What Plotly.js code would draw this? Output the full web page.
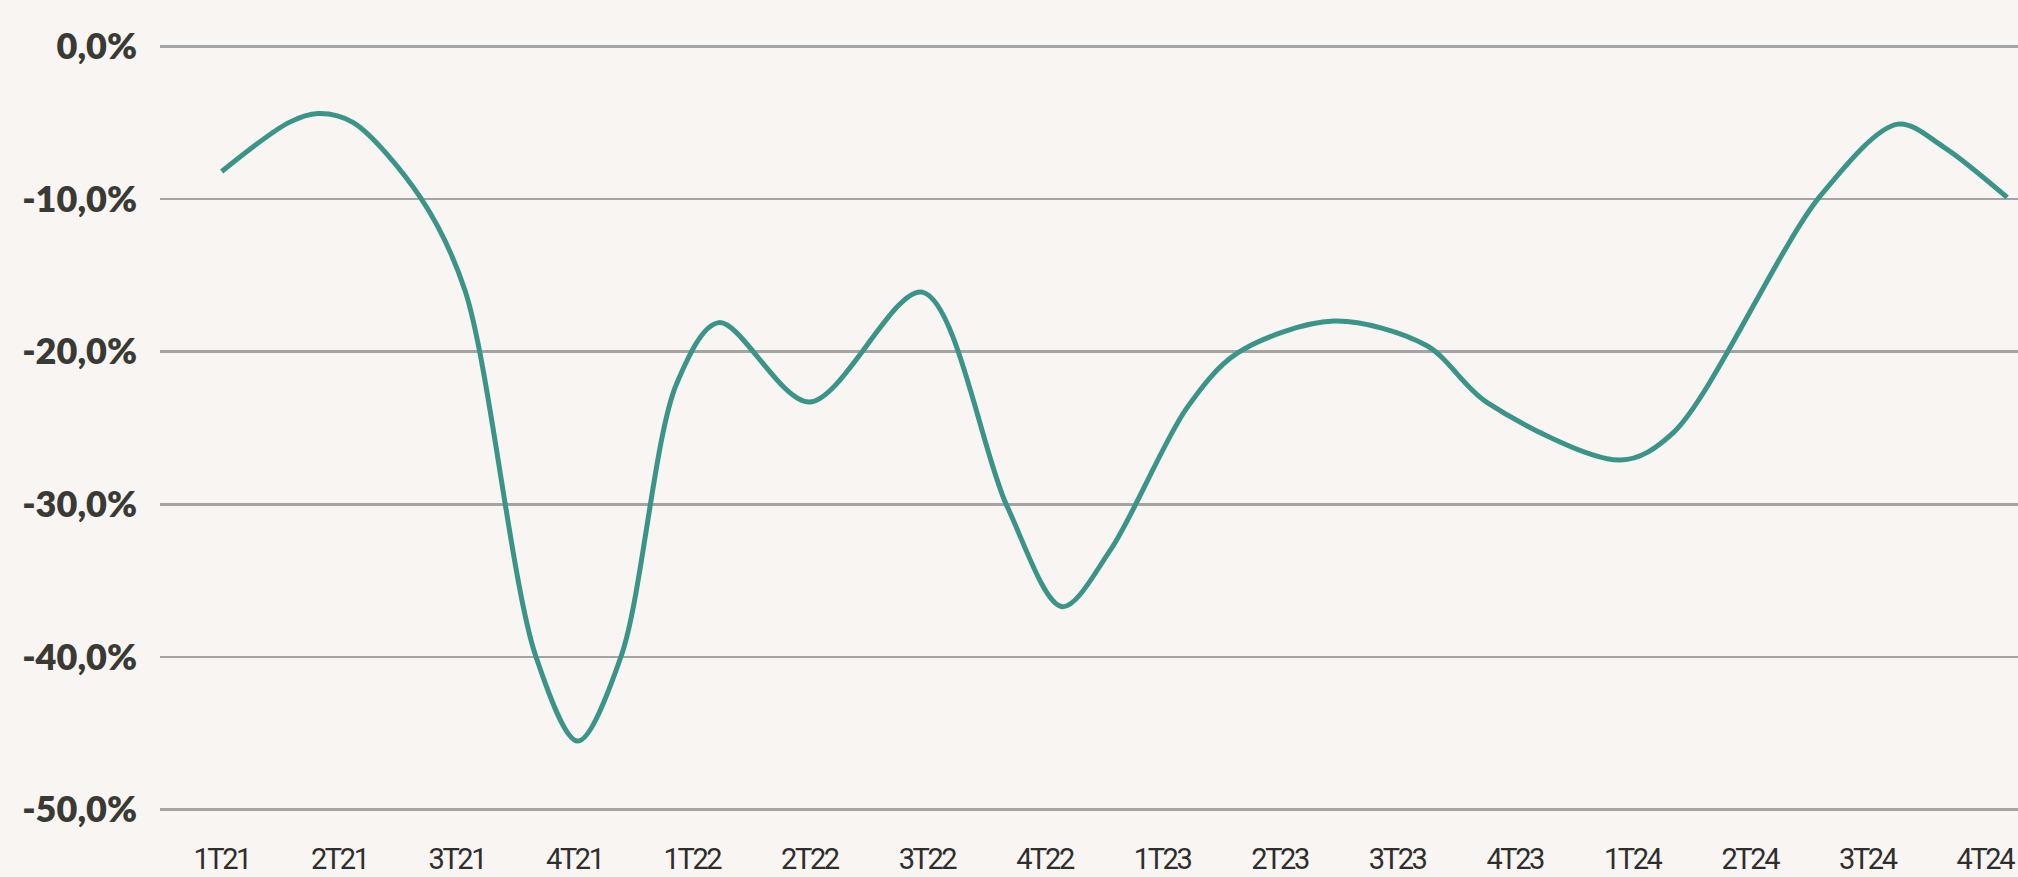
<!DOCTYPE html>
<html>
<head>
<meta charset="utf-8">
<script src="https://cdn.plot.ly/plotly-3.0.1.min.js"></script>
<style>
  html, body { margin: 0; padding: 0; background: #f8f5f2; }
  #chart { width: 2018px; height: 877px; }
  #chart .xtick text { letter-spacing: -2.4px; }
</style>
</head>
<body>
<div id="chart"></div>
<script>
// Quarter labels on the x axis
const quarters = ["1T21","2T21","3T21","4T21","1T22","2T22","3T22","4T22",
                  "1T23","2T23","3T23","4T23","1T24","2T24","3T24","4T24"];

// Line: position along the axis (in quarters, 0 = 1T21) and value (%)
const linePos = [0.00, 0.57, 0.82, 1.12, 1.69, 2.07, 2.67, 3.03, 3.40, 3.87,
                 4.23, 5.00, 5.96, 6.68, 7.15, 7.56, 8.21, 8.64, 9.46, 10.25,
                 10.76, 11.90, 12.35, 13.60, 14.26, 14.65, 15.19];
const lineVal = [-8.2, -5.0, -4.4, -5.0, -9.9, -16.0, -39.9, -45.5, -39.9, -22.1,
                 -18.1, -23.3, -16.1, -30.1, -36.7, -33.0, -23.7, -20.1, -18.0, -19.6,
                 -23.3, -27.1, -25.3, -9.8, -5.1, -6.6, -9.9];

// Y axis ticks
const yTickVals = [0, -10, -20, -30, -40, -50];
const yTickText = ["0,0%", "-10,0%", "-20,0%", "-30,0%", "-40,0%", "-50,0%"];

const trace = {
  type: "scatter",
  mode: "lines",
  x: linePos,
  y: lineVal,
  line: { color: "#3b9488", width: 5, shape: "spline", smoothing: 0.9 },
  hoverinfo: "skip"
};

const layout = {
  width: 2018,
  height: 877,
  paper_bgcolor: "#f8f5f2",
  plot_bgcolor: "#f8f5f2",
  margin: { l: 160, r: 0, t: 31, b: 52, pad: 0 },
  showlegend: false,
  xaxis: {
    range: [-0.525, 15.282],
    tickmode: "array",
    tickvals: quarters.map((q, i) => i),
    ticktext: quarters,
    showgrid: false,
    zeroline: false,
    showline: false,
    ticks: "",
    ticklabelstandoff: 14,
    tickfont: { family: "Roboto, sans-serif", size: 29, color: "#2e2e2c" },
    fixedrange: true
  },
  yaxis: {
    range: [-51, 1],
    tickmode: "array",
    tickvals: yTickVals,
    ticktext: yTickText,
    showgrid: true,
    gridcolor: "#a4a4a4",
    gridwidth: 2.7,
    zeroline: false,
    showline: false,
    ticks: "",
    ticklabelstandoff: 22,
    tickfont: { family: "Lato, Open Sans, sans-serif", size: 36, color: "#3a3a35", weight: 800 },
    fixedrange: true
  }
};

Plotly.newPlot("chart", [trace], layout, { displayModeBar: false, staticPlot: true });
</script>
</body>
</html>
